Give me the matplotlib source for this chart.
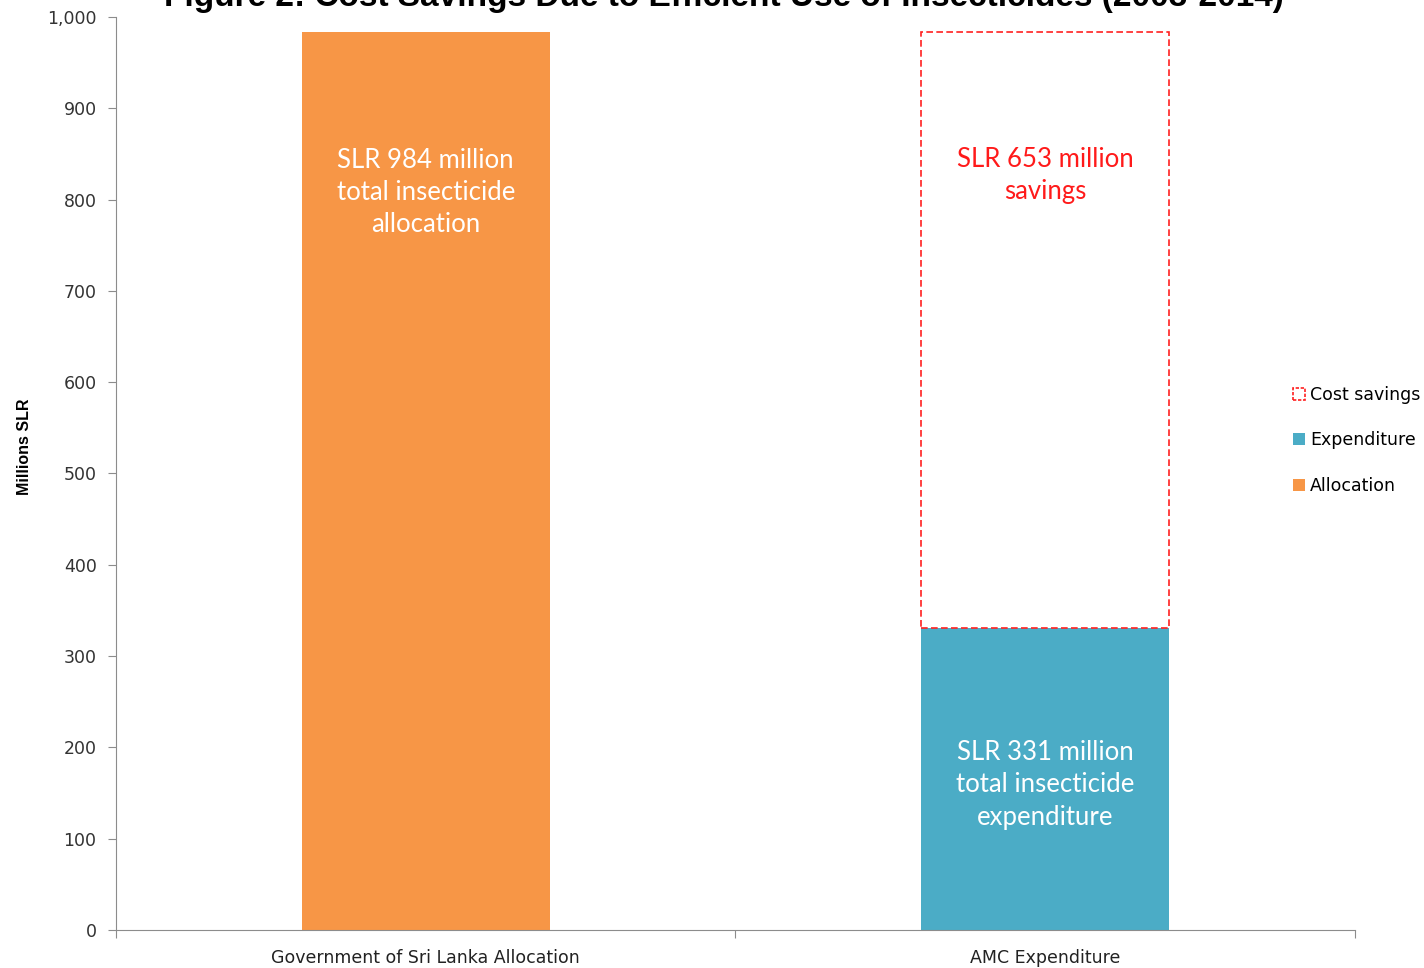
import matplotlib.pyplot as plt
from matplotlib.patches import Patch
from matplotlib.ticker import FixedLocator, FuncFormatter

categories = ["Government of Sri Lanka Allocation", "AMC Expenditure"]
allocation = [984, 0]
expenditure = [0, 331]
savings = [0, 653]
labels = [
    "SLR 984 million\ntotal insecticide\nallocation",
    "SLR 653 million\nsavings",
    "SLR 331 million\ntotal insecticide\nexpenditure",
]

orange = "#F79646"
blue = "#4BACC6"
grey = "#8C8C8C"

fig = plt.figure(figsize=(14.24, 9.68), dpi=100)
ax = fig.add_axes([0.0815, 0.0393, 0.87, 0.9431])

x = list(range(len(categories)))
w = 0.4
ax.bar(x, allocation, w, color=orange, zorder=2)
ax.bar(x, expenditure, w, color=blue, zorder=2)
# dashed outline only where there is something saved
sx = [i for i in x if savings[i] > 0]
ax.bar(sx, [savings[i] for i in sx], w, bottom=[expenditure[i] for i in sx],
       facecolor="white", edgecolor="#FF2020", linestyle=(0, (4, 2)),
       linewidth=1.2, zorder=3)

# labels inside the bars
tkw = dict(ha="center", va="center", fontsize=18.5, family="Lato", linespacing=1.36)
ax.text(0, allocation[0] - 176, labels[0], color="white", **tkw)
ax.text(1, expenditure[1] + savings[1] - 158, labels[1], color="#FF1A1A", **tkw)
ax.text(1, expenditure[1] - 172, labels[2], color="white", **tkw)

ax.set_xlim(-0.5, 1.5)
ax.set_ylim(0, 1000)
ax.set_yticks(range(0, 1001, 100))
ax.yaxis.set_major_formatter(FuncFormatter(lambda v, p: f"{int(v):,}"))
ax.tick_params(axis="y", direction="out", length=6, color=grey, labelsize=12.5,
               labelcolor="#333333", pad=8)

# category boundaries get tick marks, category centres get the labels
ax.xaxis.set_major_locator(FixedLocator([-0.5, 0.5, 1.5]))
ax.xaxis.set_major_formatter(FuncFormatter(lambda v, p: ""))
ax.xaxis.set_minor_locator(FixedLocator(x))
ax.set_xticklabels(categories, minor=True)
ax.tick_params(axis="x", which="major", direction="out", length=6, color=grey)
ax.tick_params(axis="x", which="minor", length=0, labelsize=12.5, pad=14,
               labelcolor="#222222")

for s in ["top", "right"]:
    ax.spines[s].set_visible(False)
for s in ["left", "bottom"]:
    ax.spines[s].set_color(grey)

ax.set_ylabel("Millions SLR", fontsize=11.5, fontweight="bold",
              family="Liberation Sans")
ax.yaxis.set_label_coords(-0.0675, 0.529)

fig.text(0.508, 1 - 6 / 968, "Figure 2: Cost Savings Due to Efficient Use of Insecticides (2003-2014)",
         ha="center", va="baseline", fontsize=24, fontweight="bold",
         family="Liberation Sans")

handles = [
    Patch(facecolor="white", edgecolor="#FF2020", linestyle=(0, (2, 1)), linewidth=1.2),
    Patch(facecolor=blue),
    Patch(facecolor=orange),
]
fig.legend(handles, ["Cost savings", "Expenditure", "Allocation"],
           loc="center left", bbox_to_anchor=(0.897, 0.545), frameon=False,
           handlelength=0.7, handleheight=0.7, handletextpad=0.3,
           labelspacing=1.6, fontsize=12.5)

fig.savefig("out.png", dpi=100)
